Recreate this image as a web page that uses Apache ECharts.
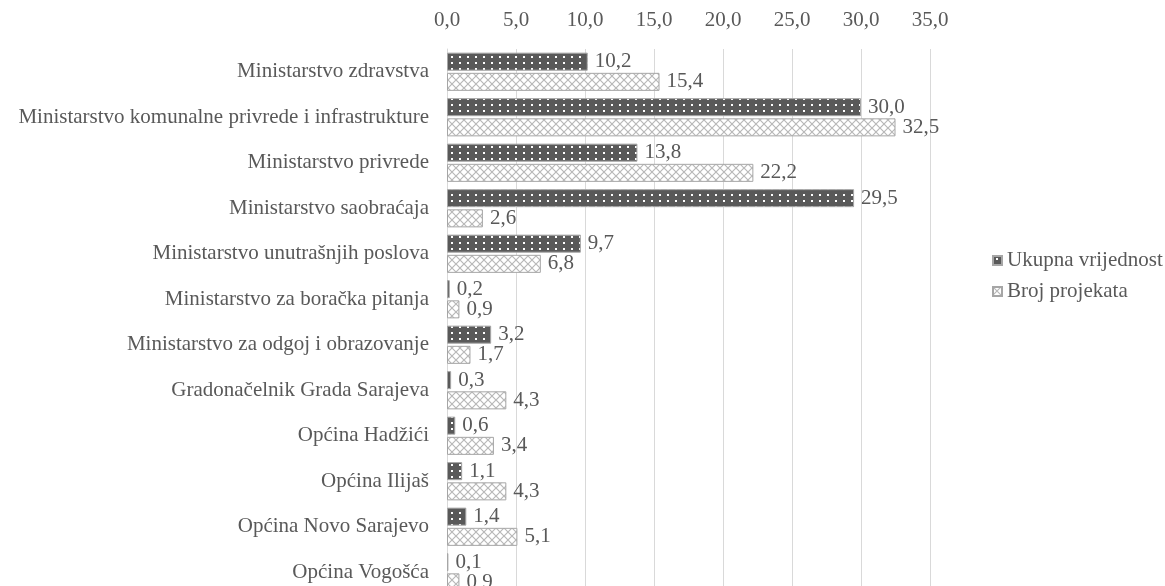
<!DOCTYPE html>
<html>
<head>
<meta charset="utf-8">
<script src="https://cdn.jsdelivr.net/npm/echarts@6/dist/echarts.min.js"></script>
<style>
  html, body { margin: 0; padding: 0; background: #fff; }
  #chart { width: 1165px; height: 586px; }
</style>
</head>
<body>
<div id="chart"></div>
<script>
const categories = [
  'Ministarstvo zdravstva',
  'Ministarstvo komunalne privrede i infrastrukture',
  'Ministarstvo privrede',
  'Ministarstvo saobraćaja',
  'Ministarstvo unutrašnjih poslova',
  'Ministarstvo za boračka pitanja',
  'Ministarstvo za odgoj i obrazovanje',
  'Gradonačelnik Grada Sarajeva',
  'Općina Hadžići',
  'Općina Ilijaš',
  'Općina Novo Sarajevo',
  'Općina Vogošća'
];
const ukupnaVrijednost = [10.2, 30.0, 13.8, 29.5, 9.7, 0.2, 3.2, 0.3, 0.6, 1.1, 1.4, 0.1];
const brojProjekata = [15.4, 32.5, 22.2, 2.6, 6.8, 0.9, 1.7, 4.3, 3.4, 4.3, 5.1, 0.9];
const seriesNames = ['Ukupna vrijednost', 'Broj projekata'];

const font = 'Liberation Serif, Times New Roman, serif';
const textColor = '#595959';
const fontSize = 21;

// dotted dark fill
function dotPattern() {
  const c = document.createElement('canvas');
  c.width = 8; c.height = 6;
  const ctx = c.getContext('2d');
  ctx.fillStyle = '#595959';
  ctx.fillRect(0, 0, 8, 6);
  ctx.fillStyle = '#ffffff';
  ctx.fillRect(3, 2, 2, 2);
  return c;
}

// light weave fill
function weavePattern() {
  const c = document.createElement('canvas');
  c.width = 8; c.height = 8;
  const ctx = c.getContext('2d');
  ctx.fillStyle = '#ffffff';
  ctx.fillRect(0, 0, 8, 8);
  ctx.strokeStyle = '#b8b8b8';
  ctx.lineWidth = 1.2;
  ctx.beginPath();
  ctx.moveTo(0, 0); ctx.lineTo(8, 8);
  ctx.moveTo(0, 8); ctx.lineTo(8, 0);
  ctx.stroke();
  return c;
}

const fmt = (v) => v.toFixed(1).replace('.', ',');

const chart = echarts.init(document.getElementById('chart'));
chart.setOption({
  animation: false,
  textStyle: { fontFamily: font },
  legend: {
    data: seriesNames,
    orient: 'vertical',
    left: 987,
    top: 245,
    itemWidth: 9,
    itemHeight: 9,
    itemGap: 10,
    itemTextGap: 4,
    icon: 'rect',
    textStyle: { fontFamily: font, fontSize: fontSize, color: textColor }
  },
  grid: {
    left: 447, width: 483, top: 49, height: 546,
    containLabel: false,
    outerBoundsMode: 'none'
  },
  xAxis: {
    type: 'value',
    position: 'top',
    min: 0,
    max: 35,
    interval: 5,
    axisLine: { show: false },
    axisTick: { show: false },
    splitLine: { lineStyle: { color: '#d9d9d9' } },
    axisLabel: {
      margin: 18,
      fontFamily: font,
      fontSize: fontSize,
      color: textColor,
      formatter: fmt
    }
  },
  yAxis: {
    type: 'category',
    data: categories,
    inverse: true,
    axisLine: { show: true, lineStyle: { color: '#d9d9d9' } },
    axisTick: { show: false },
    axisLabel: {
      margin: 18,
      fontFamily: font,
      fontSize: fontSize,
      color: textColor
    }
  },
  series: [
    {
      name: seriesNames[0],
      type: 'bar',
      data: ukupnaVrijednost,
      barGap: '12%',
      barCategoryGap: '16%',
      itemStyle: {
        color: { image: dotPattern(), repeat: 'repeat' },
        borderColor: '#a6a6a6',
        borderWidth: 1
      },
      label: {
        show: true,
        position: 'right',
        distance: 7,
        fontFamily: font,
        fontSize: fontSize,
        color: textColor,
        formatter: (p) => fmt(p.value)
      }
    },
    {
      name: seriesNames[1],
      type: 'bar',
      data: brojProjekata,
      itemStyle: {
        color: { image: weavePattern(), repeat: 'repeat' },
        borderColor: '#a6a6a6',
        borderWidth: 1
      },
      label: {
        show: true,
        position: 'right',
        distance: 7,
        fontFamily: font,
        fontSize: fontSize,
        color: textColor,
        formatter: (p) => fmt(p.value)
      }
    }
  ]
});
</script>
</body>
</html>
